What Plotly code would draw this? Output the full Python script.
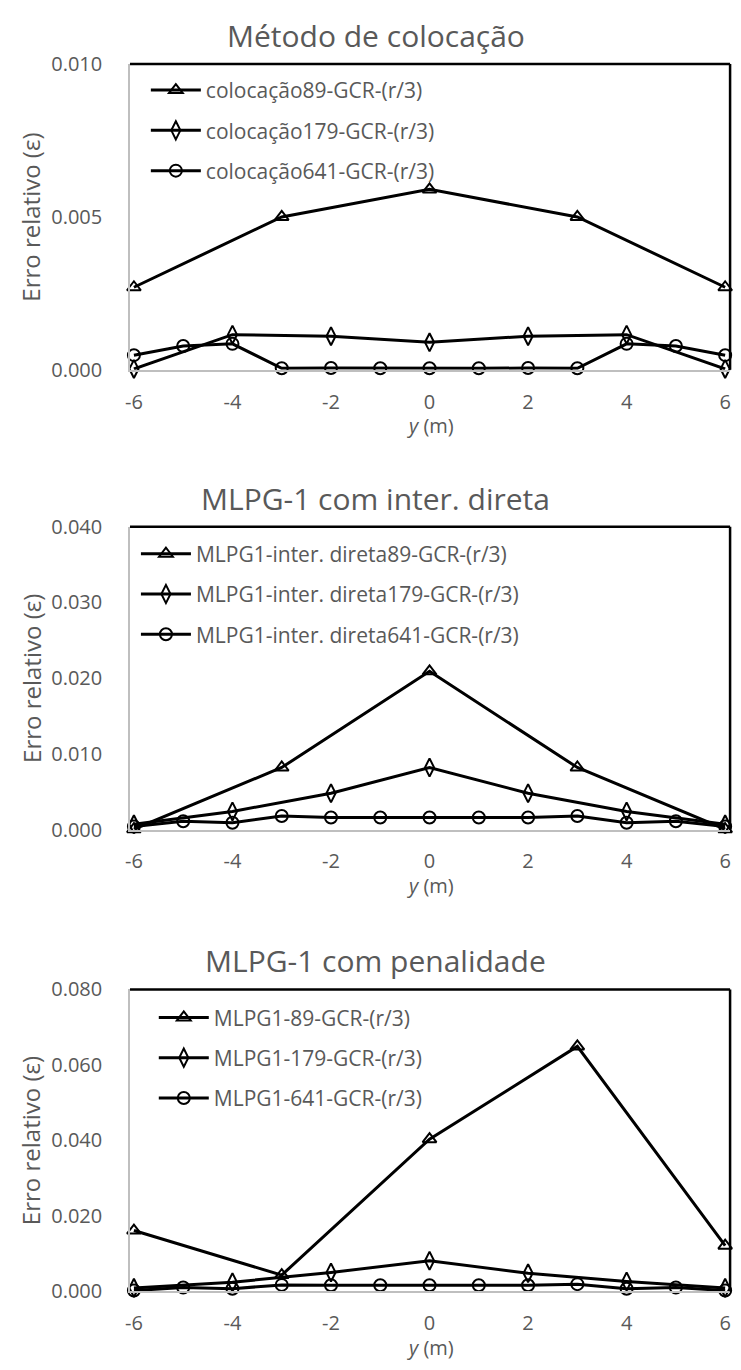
import plotly.graph_objects as go

# ---------------- data ----------------
x89 = [-6, -3, 0, 3, 6]
x179 = [-6, -4, -2, 0, 2, 4, 6]
x641 = [-6, -5, -4, -3, -2, -1, 0, 1, 2, 3, 4, 5, 6]

col_89 = [0.0027, 0.0050, 0.0059, 0.0050, 0.0027]
col_179 = [0.00003, 0.00115, 0.0011, 0.0009, 0.0011, 0.00115, 0.00003]
col_641 = [0.00048, 0.00078, 0.00085, 0.00005, 0.00006, 0.00005, 0.00005,
           0.00005, 0.00006, 0.00005, 0.00085, 0.00078, 0.00048]

dir_89 = [0.00005, 0.0082, 0.0209, 0.0082, 0.00005]
dir_179 = [0.0007, 0.0024, 0.0048, 0.0082, 0.0048, 0.0024, 0.0007]
dir_641 = [0.0004, 0.0011, 0.0009, 0.0018, 0.0016, 0.0016, 0.0016,
           0.0016, 0.0016, 0.0018, 0.0009, 0.0011, 0.0004]

pen_89 = [0.0161, 0.0043, 0.0403, 0.0649, 0.0121]
pen_179 = [0.0009, 0.0024, 0.0050, 0.0081, 0.0048, 0.0026, 0.0009]
pen_641 = [0.0002, 0.0010, 0.0007, 0.0017, 0.0016, 0.0016, 0.0016,
           0.0016, 0.0016, 0.0019, 0.0007, 0.0010, 0.0002]

titles = ["Método de colocação", "MLPG-1 com inter. direta", "MLPG-1 com penalidade"]
names = [
    ["colocação89-GCR-(r/3)", "colocação179-GCR-(r/3)", "colocação641-GCR-(r/3)"],
    ["MLPG1-inter. direta89-GCR-(r/3)", "MLPG1-inter. direta179-GCR-(r/3)",
     "MLPG1-inter. direta641-GCR-(r/3)"],
    ["MLPG1-89-GCR-(r/3)", "MLPG1-179-GCR-(r/3)", "MLPG1-641-GCR-(r/3)"],
]
series = [[col_89, col_179, col_641], [dir_89, dir_179, dir_641], [pen_89, pen_179, pen_641]]
xs = [x89, x179, x641]
symbols = ["triangle-up-open", "diamond-tall-open", "circle-open"]
yticks = [[0, 0.005, 0.010], [0, 0.010, 0.020, 0.030, 0.040], [0, 0.020, 0.040, 0.060, 0.080]]
xticks = [-6, -4, -2, 0, 2, 4, 6]

# ---------------- layout geometry (pixels) ----------------
W, H = 741, 1370
left, right = 126, 731
tops = [51, 523, 995]
bottoms = [363, 832, 1303]
legend_first_row = [73, 546, 1019]
legend_line_x = [148, 138, 156]

GRAY = "#595959"
FONT = "Open Sans"

fig = go.Figure()
annotations = []
shapes = []

for p in range(3):
    sfx = "" if p == 0 else str(p + 1)
    leg = "legend" + sfx
    for s in range(3):
        fig.add_trace(go.Scatter(
            x=xs[s], y=series[p][s], name=names[p][s],
            mode="lines+markers",
            line=dict(color="black", width=3),
            marker=dict(symbol=symbols[s], size=12 if s != 1 else 13,
                        color="black", line=dict(width=2, color="black")),
            xaxis="x" + sfx, yaxis="y" + sfx,
            legend=leg, legendgroup=f"g{p}{s}",
            cliponaxis=False,
        ))
    ydom = [1 - bottoms[p] / H, 1 - tops[p] / H]
    xdom = [left / W, right / W]
    fig.layout["xaxis" + sfx] = dict(
        domain=xdom, anchor="y" + sfx, range=[-6.08, 6.1],
        tickvals=xticks, ticktext=[str(v) for v in xticks],
        showgrid=False, zeroline=False, showline=True, linecolor="#BFBFBF", linewidth=1.5,
        ticks="", tickfont=dict(family=FONT, size=20, color=GRAY),
        ticklabelstandoff=13,
    )
    fig.layout["yaxis" + sfx] = dict(
        domain=ydom, anchor="x" + sfx, range=[0, yticks[p][-1]],
        tickvals=yticks[p], ticktext=[f"{v:.3f}" for v in yticks[p]],
        showgrid=False, zeroline=False, showline=True, linecolor="#BFBFBF", linewidth=1.5,
        ticks="", tickfont=dict(family=FONT, size=20, color=GRAY),
        ticklabelstandoff=22,
    )
    fig.layout[leg] = dict(
        x=(legend_line_x[p] - 6) / W, xanchor="left",
        y=1 - (legend_first_row[p] - 16) / H, yanchor="top",
        bgcolor="rgba(0,0,0,0)", borderwidth=0,
        font=dict(family=FONT, size=21, color=GRAY),
        tracegroupgap=10, itemwidth=50,
    )
    # black top & right frame
    shapes.append(dict(type="line", xref="x" + sfx + " domain", yref="y" + sfx + " domain",
                       x0=0, x1=1, y0=1, y1=1, line=dict(color="black", width=2.5)))
    shapes.append(dict(type="line", xref="x" + sfx + " domain", yref="y" + sfx + " domain",
                       x0=1, x1=1, y0=0, y1=1, line=dict(color="black", width=2.5)))
    # chart title
    annotations.append(dict(text=titles[p], xref="paper", yref="paper",
                            x=374 / W, y=1 - (tops[p] - 29) / H, xanchor="center", yanchor="middle",
                            showarrow=False, font=dict(family=FONT, size=30, color=GRAY)))
    # y-axis title
    annotations.append(dict(text="Erro relativo (ε)", xref="paper", yref="paper",
                            x=26 / W, y=1 - ((tops[p] + bottoms[p]) / 2) / H,
                            xanchor="center", yanchor="middle", textangle=-90,
                            showarrow=False, font=dict(family=FONT, size=24, color=GRAY)))
    # x-axis title
    annotations.append(dict(text="<i>y</i> (m)", xref="paper", yref="paper",
                            x=((left + right) / 2) / W, y=1 - (bottoms[p] + 57) / H,
                            xanchor="center", yanchor="middle",
                            showarrow=False, font=dict(family=FONT, size=20, color=GRAY)))

fig.update_layout(
    width=W, height=H, margin=dict(l=0, r=0, t=0, b=0),
    paper_bgcolor="white", plot_bgcolor="white",
    annotations=annotations, shapes=shapes, showlegend=True,
)

fig.write_html("out.html")
